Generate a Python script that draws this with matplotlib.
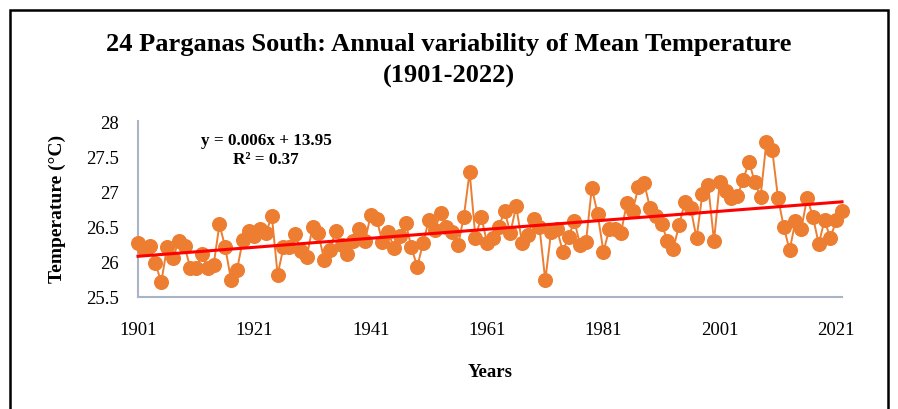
import matplotlib
matplotlib.use("Agg")
import matplotlib.pyplot as plt
import numpy as np

plt.rcParams['font.family'] = ['Liberation Serif', 'DejaVu Serif']

years = list(range(1901, 2023))
temps = [
    26.28, 26.19, 26.23, 25.98, 25.71, 26.22, 26.06, 26.30, 26.23, 25.91,  # 1901-1910
    25.91, 26.11, 25.92, 25.96, 26.54, 26.21, 25.74, 25.88, 26.31, 26.45,  # 1911-1920
    26.38, 26.48, 26.42, 26.66, 25.82, 26.21, 26.21, 26.40, 26.16, 26.07,  # 1921-1930
    26.50, 26.41, 26.03, 26.18, 26.45, 26.24, 26.12, 26.30, 26.48, 26.30,  # 1931-1940
    26.67, 26.62, 26.29, 26.43, 26.20, 26.37, 26.56, 26.21, 25.93, 26.28,  # 1941-1950
    26.60, 26.46, 26.70, 26.50, 26.43, 26.24, 26.65, 27.29, 26.35, 26.65,  # 1951-1960
    26.27, 26.34, 26.50, 26.73, 26.42, 26.80, 26.28, 26.39, 26.61, 26.50,  # 1961-1970
    25.74, 26.43, 26.48, 26.15, 26.36, 26.59, 26.24, 26.29, 27.06, 26.69,  # 1971-1980
    26.15, 26.47, 26.48, 26.41, 26.84, 26.73, 27.07, 27.13, 26.78, 26.66,  # 1981-1990
    26.55, 26.30, 26.19, 26.53, 26.86, 26.77, 26.34, 26.97, 27.10, 26.30,  # 1991-2000
    27.15, 27.02, 26.92, 26.94, 27.17, 27.44, 27.15, 26.93, 27.72, 27.61,  # 2001-2010
    26.92, 26.50, 26.17, 26.59, 26.47, 26.92, 26.65, 26.26, 26.60, 26.34,  # 2011-2020
    26.60, 26.73,                                                          # 2021-2022
]
xticks = [1901, 1921, 1941, 1961, 1981, 2001, 2021]
yticks = [25.5, 26, 26.5, 27, 27.5, 28]
ytick_labels = ['25.5', '26', '26.5', '27', '27.5', '28']

title = "24 Parganas South: Annual variability of Mean Temperature\n(1901-2022)"
eq_text = "y = 0.006x + 13.95\nR² = 0.37"

x = np.array(years, dtype=float)
y = np.array(temps, dtype=float)
slope, intercept = np.polyfit(x, y, 1)

fig = plt.figure(figsize=(8.98, 4.09), dpi=100)
ax = fig.add_axes([138/898, 1 - 297/409, (842-138)/898, (297-121)/409])

orange = '#ED7D31'
ax.plot(x, y, color=orange, lw=1.4, marker='o', markersize=9.8,
        markerfacecolor=orange, markeredgecolor=orange, zorder=3, clip_on=False)
ax.plot([x[0], x[-1]], [slope*x[0] + intercept, slope*x[-1] + intercept],
        color='#FF0000', lw=2.2, zorder=4, clip_on=False)

ax.set_xlim(1901, 2022)
ax.set_ylim(25.5, 28.02)
ax.set_xticks(xticks)
ax.set_xticklabels([str(t) for t in xticks], fontsize=13.5)
ax.set_yticks(yticks)
ax.set_yticklabels(ytick_labels, fontsize=13.5)
ax.tick_params(axis='x', length=0, pad=18, colors='black')
ax.tick_params(axis='y', length=0, pad=14, colors='black')
for s in ['top', 'right']:
    ax.spines[s].set_visible(False)
for s in ['left', 'bottom']:
    ax.spines[s].set_color('#A9B4C6')
    ax.spines[s].set_linewidth(1.5)

ax.set_xlabel('Years', fontsize=13.5, fontweight='bold', labelpad=18)
ax.set_ylabel('Temperature (°C)', fontsize=14, fontweight='bold', labelpad=14)

fig.text(449/898, 1 - 45/409, title.split('\n')[0], ha='center', va='center',
         fontsize=19, fontweight='bold')
fig.text(449/898, 1 - 76/409, title.split('\n')[1], ha='center', va='center',
         fontsize=19, fontweight='bold')
fig.text(266/898, 1 - 150.5/409, eq_text, ha='center', va='center',
         fontsize=12.3, fontweight='bold', linespacing=1.2)

border = plt.Rectangle((9.5/898, -0.05), (888-9.5)/898, 1.05 - 10/409,
                       transform=fig.transFigure, fill=False,
                       edgecolor='black', lw=1.8)
fig.patches.append(border)

fig.savefig('out.png', dpi=100)
